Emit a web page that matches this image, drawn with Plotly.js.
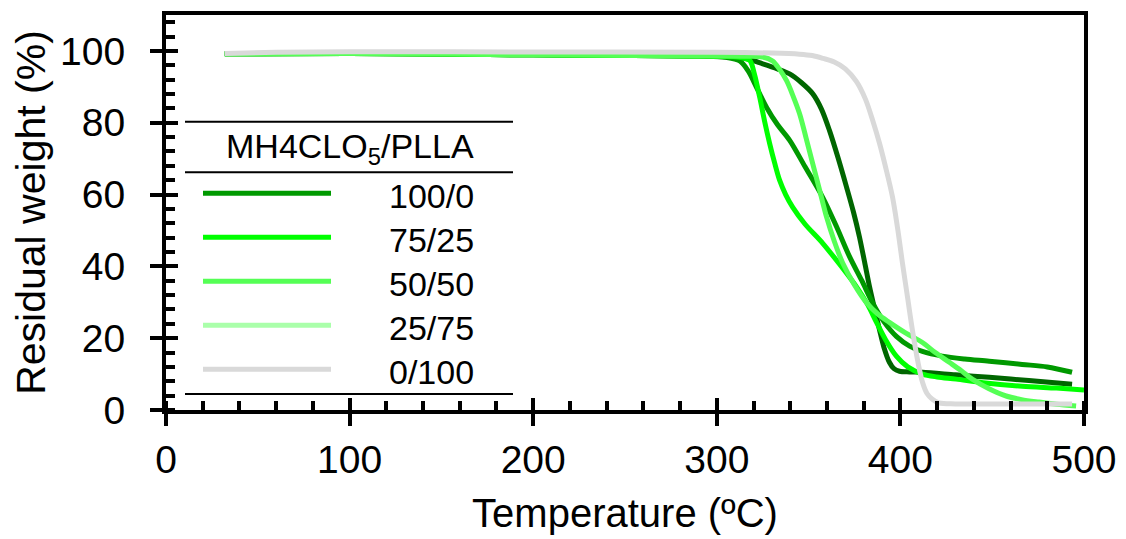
<!DOCTYPE html>
<html>
<head>
<meta charset="utf-8">
<script src="https://cdn.plot.ly/plotly-3.0.1.min.js"></script>
<style>
  html, body { margin: 0; padding: 0; background: #ffffff; }
  #chart { width: 1126px; height: 539px; }
</style>
</head>
<body>
<div id="chart"></div>
<script>
// ---- Data ----
const legendLabels = ["100/0", "75/25", "50/50", "25/75", "0/100"];
const legendColors = ["#009900", "#00ff00", "#55ff55", "#aaffaa", "#d9d9d9"];

// medium green curve
const tempA = [32, 100, 200, 290, 305, 312.5, 317, 321.7, 327.2, 333, 339.7, 348, 357.6, 365, 372.3, 379, 384.8, 391, 397.8, 405, 412, 422.8, 435, 448.4, 466.3, 480, 493.5];
const weightA = [99.2, 99.3, 98.9, 98.6, 98.2, 97.2, 94.5, 89.8, 84.2, 79.5, 75.1, 67.8, 59.3, 51.3, 42.7, 36, 29.9, 24.6, 20.5, 17.8, 16.3, 15, 14.2, 13.6, 12.7, 12, 10.5];

// bright green curve
const tempB = [32, 100, 200, 290, 308, 314, 318, 320.5, 323.4, 326, 328.8, 331.5, 334.2, 337.5, 341.3, 348, 357.6, 367, 376.1, 382, 387, 392, 397.8, 404, 412, 420, 430.4, 445, 466.3, 485, 500];
const weightB = [99.2, 99.3, 98.9, 98.6, 98.4, 98.1, 97.3, 93.5, 87, 80.5, 74.2, 68.8, 64, 60, 56.5, 51.8, 46.5, 40.5, 34.3, 29.5, 24.4, 19.5, 15, 12, 10, 9.2, 8.6, 7.6, 6.6, 6.1, 5.6];

// light green curve
const tempC = [32, 100, 200, 290, 315, 325, 330.4, 334, 338, 341.5, 345.1, 348.5, 352.2, 356, 359.8, 364, 368.5, 375, 381.5, 388, 394, 403, 412, 419, 426.6, 433, 439.1, 448, 457.6, 466, 475.5, 485, 495.7];
const weightC = [99.2, 99.3, 98.9, 98.6, 98.5, 98.3, 97.2, 95, 91.7, 87.5, 82.5, 76, 68.7, 61.2, 53.7, 47, 41, 34.8, 29.9, 26.6, 24.4, 21.4, 18.8, 16, 13.3, 11, 8.6, 6, 3.9, 2.9, 2.2, 1.6, 1.1];

// dark green curve
const tempD = [32, 100, 200, 290, 305, 316.3, 325, 333, 339.7, 346, 352.2, 357, 361.4, 366, 370.7, 374.5, 377.7, 380.5, 383.2, 386, 388.6, 391, 394, 396.5, 399.5, 405, 412, 430, 448.4, 470, 493.5];
const weightD = [99.2, 99.3, 98.9, 98.6, 98.3, 97.8, 96.4, 95, 93.6, 91.2, 88.1, 83.8, 77.8, 70.3, 62, 55, 48.2, 41.2, 34.3, 28, 22.4, 17.5, 13.3, 11.5, 10.8, 10.6, 10.5, 9.8, 9.1, 8.2, 7.2];

// gray curve
const tempE = [32, 60, 100, 200, 300, 330, 345, 352, 358, 364, 370, 376, 381, 385, 388.5, 392, 395.7, 398.5, 401.1, 404, 406.5, 409.5, 412, 414.5, 417.4, 421, 430, 460, 493.5];
const weightE = [99.3, 99.6, 99.8, 99.7, 99.6, 99.4, 99.1, 98.7, 97.9, 96.9, 95, 91.5, 86.5, 80.5, 74.5, 67.5, 59.3, 50.5, 41, 31, 22.4, 13.5, 7.8, 4.6, 3.0, 2.0, 1.7, 1.7, 1.7];

const traceNames = ["100/0", "75/25", "50/50", "25/75", "0/100"];
const traceColors = ["#009900", "#00ff00", "#55ff55", "#006600", "#d9d9d9"];
const temps = [tempA, tempB, tempC, tempD, tempE];
const weights = [weightA, weightB, weightC, weightD, weightE];
const drawOrder = [3, 0, 1, 2, 4];

const xTitle = "Temperature (ºC)";
const yTitle = "Residual weight (%)";
const legendTitle = "MH4CLO<sub>5</sub>/PLLA";

// ---- Layout geometry (pixels) ----
const W = 1126, H = 539;
const M = { l: 166, r: 42, t: 15, b: 129 };
const PW = W - M.l - M.r, PH = H - M.t - M.b;
const px = x => (x - M.l) / PW;
const py = y => (H - M.b - y) / PH;

const FONT = "Arial, 'Liberation Sans', sans-serif";

const traces = drawOrder.map(i => ({
  type: "scatter",
  mode: "lines",
  name: traceNames[i],
  x: temps[i],
  y: weights[i],
  line: { color: traceColors[i], width: 5, shape: "spline", smoothing: 0.9 },
  showlegend: false,
  hoverinfo: "x+y+name"
}));

// dummy trace so the overlay axes (inner half of major ticks) are drawn
traces.push({ type: "scatter", mode: "lines", x: [null], y: [null], xaxis: "x2", yaxis: "y2", showlegend: false, hoverinfo: "skip" });

// custom legend (rules, line samples, labels)
const shapes = [];
const annotations = [];
const ruleX0 = px(185), ruleX1 = px(513);
[121.7, 172.3, 394].forEach(yy => {
  shapes.push({ type: "line", xref: "paper", yref: "paper", x0: ruleX0, x1: ruleX1, y0: py(yy), y1: py(yy), line: { color: "#000", width: 2 } });
});
annotations.push({ xref: "paper", yref: "paper", x: px(350), y: py(148), text: legendTitle, showarrow: false, xanchor: "center", yanchor: "middle", font: { family: FONT, size: 34, color: "#000" } });
const rowY0 = 193.3, rowDY = 44;
legendLabels.forEach((lab, k) => {
  const yy = rowY0 + k * rowDY;
  shapes.push({ type: "line", xref: "paper", yref: "paper", x0: px(203), x1: px(331), y0: py(yy), y1: py(yy), line: { color: legendColors[k], width: 5 } });
  annotations.push({ xref: "paper", yref: "paper", x: px(476), y: py(yy + 3), text: lab, showarrow: false, xanchor: "right", yanchor: "middle", font: { family: FONT, size: 34, color: "#000" } });
});

const axisCommon = {
  showgrid: false, zeroline: false,
  showline: true, linecolor: "#000", linewidth: 4, mirror: true,
  ticks: "outside", ticklen: 12, tickwidth: 4, tickcolor: "#000",
  tickfont: { family: FONT, size: 39, color: "#000" }
};

const layout = {
  width: W, height: H,
  margin: M,
  paper_bgcolor: "#fff", plot_bgcolor: "#fff",
  font: { family: FONT, color: "#000" },
  showlegend: false,
  xaxis: Object.assign({}, axisCommon, {
    range: [0, 500], tick0: 0, dtick: 100,
    minor: { dtick: 20, ticks: "inside", ticklen: 9, tickwidth: 4, tickcolor: "#000" },
    title: { text: xTitle, font: { family: FONT, size: 40, color: "#000" }, standoff: 20 }
  }),
  yaxis: Object.assign({}, axisCommon, {
    range: [0, 110], tick0: 0, dtick: 20,
    ticklabelstandoff: 17,
    minor: { dtick: 4, ticks: "inside", ticklen: 9, tickwidth: 4, tickcolor: "#000" },
    title: { text: yTitle, font: { family: FONT, size: 41, color: "#000" }, standoff: 3 }
  }),
  xaxis2: { overlaying: "x", anchor: "y2", range: [0, 500], tick0: 0, dtick: 100, ticks: "inside", ticklen: 12, tickwidth: 4, tickcolor: "#000", showticklabels: false, showgrid: false, zeroline: false, showline: false, side: "bottom" },
  yaxis2: { overlaying: "y", anchor: "x2", range: [0, 110], tick0: 0, dtick: 20, ticks: "inside", ticklen: 12, tickwidth: 4, tickcolor: "#000", showticklabels: false, showgrid: false, zeroline: false, showline: false, side: "left" },
  shapes: shapes,
  annotations: annotations
};

Plotly.newPlot("chart", traces, layout, { displayModeBar: false, responsive: false });
</script>
</body>
</html>
